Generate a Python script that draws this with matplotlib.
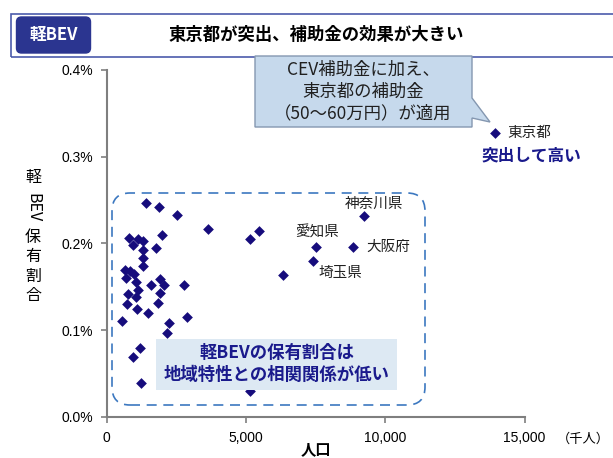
import numpy as np
import matplotlib.pyplot as plt
from matplotlib.patches import FancyBboxPatch, Rectangle, PathPatch
from matplotlib.path import Path
from matplotlib.transforms import IdentityTransform
from matplotlib.ticker import FuncFormatter

# population (thousand people) and kei-BEV share (%) by prefecture
population = [1414, 1881, 2518, 3644, 1978, 802, 1115, 1317, 935, 1317,
              1773, 1317, 1317, 658, 838, 982, 683, 1054, 1593, 1917,
              2061, 2780, 1137, 1917, 777, 1054, 719, 1827, 1079, 1496,
              540, 2252, 2878, 2158, 1198, 935, 1223, 5155, 5478, 5129,
              6341, 7410, 7529, 8823, 9230, 13931]
share = [0.2465, 0.2419, 0.2330, 0.2165, 0.2103, 0.2068, 0.2050, 0.2030, 0.1984, 0.1926,
         0.1946, 0.1830, 0.1742, 0.1690, 0.1678, 0.1649, 0.1600, 0.1554, 0.1522, 0.1586,
         0.1522, 0.1522, 0.1465, 0.1427, 0.1415, 0.1388, 0.1303, 0.1309, 0.1246, 0.1203,
         0.1107, 0.1088, 0.1150, 0.0972, 0.0799, 0.0689, 0.0396, 0.0300, 0.2145, 0.2053,
         0.1634, 0.1799, 0.1957, 0.1964, 0.2322, 0.3279]

# labelled prefectures: name, population, share, text offset (px), alignment
labels = [("神奈川県", 9230, 0.2322, (10, 12), "center"),
          ("愛知県", 7529, 0.1957, (1, 15), "center"),
          ("大阪府", 8823, 0.1964, (14, 0), "left"),
          ("埼玉県", 7410, 0.1799, (5, -12), "left"),
          ("東京都", 13931, 0.3279, (13, 0), "left")]

W, H = 613, 458
JP = ['Noto Sans CJK JP', 'DejaVu Sans']
LAT = ['Liberation Sans', 'DejaVu Sans']
navy = '#160c7c'

fig = plt.figure(figsize=(W / 100, H / 100), dpi=100)
ax = fig.add_axes([106.7 / W, 1 - 417 / H, (524.6 - 106.7) / W, (417 - 70) / H])

def fx(x):
    return x / W

def fy(y):
    return 1 - y / H

ax.scatter(population, share, marker='D', s=30, color=navy, zorder=3, linewidths=0)

ax.set_xlim(0, 15000)
ax.set_ylim(0, 0.4)
ax.set_xticks([0, 5000, 10000, 15000])
ax.set_yticks([0, 0.1, 0.2, 0.3, 0.4])
ax.xaxis.set_major_formatter(FuncFormatter(lambda v, p: f"{int(v):,}"))
ax.yaxis.set_major_formatter(FuncFormatter(lambda v, p: f"{v:.1f}%"))
for s in ['top', 'right']:
    ax.spines[s].set_visible(False)
for s in ['left', 'bottom']:
    ax.spines[s].set_color('#7f7f7f')
    ax.spines[s].set_linewidth(1.5)
ax.tick_params(direction='out', length=4, color='#7f7f7f', width=1.2,
               labelsize=10, labelcolor='#000000', pad=6)
for t in ax.get_xticklabels() + ax.get_yticklabels():
    t.set_family(LAT)

# prefecture labels
for name, xv, yv, off, ha in labels:
    ax.annotate(name, (xv, yv), xytext=off, textcoords='offset pixels',
                ha=ha, va='center', fontsize=10.5, family=JP, color='#202020')

# header
fig.add_artist(Rectangle((fx(11), fy(56.7)), fx(620 - 11), 43 / H, transform=fig.transFigure,
                         facecolor='none', edgecolor='#4b5bab', lw=1.2))
tag = FancyBboxPatch((16.5, H - 53), 74, 36, boxstyle="round,pad=0,rounding_size=5",
                     transform=IdentityTransform(), facecolor='#2b3590', edgecolor='#2b3590')
fig.add_artist(tag)
fig.text(fx(53.5), fy(35), "軽BEV", ha='center', va='center', color='white',
         fontsize=12, fontweight='bold', family=JP)
fig.text(fx(316), fy(35), "東京都が突出、補助金の効果が大きい", ha='center', va='center',
         fontsize=12.5, fontweight='bold', family=JP, color='black')

# callout
x0, x1, y0, y1 = 255, 472, H - 127, H - 56
verts = [(x0, y0), (x0, y1), (x1, y1), (x1, H - 98), (490, H - 122), (x1, H - 118),
         (x1, y0), (x0, y0)]
codes = [Path.MOVETO] + [Path.LINETO] * 6 + [Path.CLOSEPOLY]
fig.add_artist(PathPatch(Path(verts, codes), transform=IdentityTransform(),
                         facecolor='#c6d9ec', edgecolor='#8497b0', lw=1))
fig.text(fx(363), fy(91.5), "CEV補助金に加え、\n東京都の補助金\n（50～60万円）が適用",
         ha='center', va='center', fontsize=12.5, family=JP, color='#202020', linespacing=1.3)
fig.text(fx(482), fy(155), "突出して高い", ha='left', va='center', fontsize=12,
         fontweight='bold', family=JP, color='#1a1a8c')

# dashed rounded box
fig.add_artist(FancyBboxPatch((112, H - 405), 313, 212, boxstyle="round,pad=0,rounding_size=18",
                              transform=IdentityTransform(), facecolor='none',
                              edgecolor='#3c78c0', lw=1.2, linestyle=(0, (6, 4))))
fig.add_artist(Rectangle((fx(156), fy(389.5)), (397 - 156) / W, 51 / H, transform=fig.transFigure,
                         facecolor='#dde9f3', edgecolor='none', zorder=4))
fig.text(fx(276.5), fy(364), "軽BEVの保有割合は\n地域特性との相関関係が低い", ha='center',
         va='center', fontsize=12.5, fontweight='bold', family=JP, color='#1a1a8c',
         linespacing=1.3, zorder=5)

# axis labels
fig.text(fx(316), fy(449), "人口", ha='center', va='center', fontsize=11,
         fontweight='bold', family=JP)
fig.text(fx(557), fy(439), "（千人）", ha='left', va='center', fontsize=9.5, family=JP)
ylab = [("軽", 177.7, 0), ("BEV", 208, -90), ("保", 237.5, 0), ("有", 257, 0),
        ("割", 276.7, 0), ("合", 295.5, 0)]
for ch, yy, rot in ylab:
    fig.text(fx(33), fy(yy), ch, ha='center', va='center', fontsize=11.5, family=JP,
             rotation=rot)

fig.savefig('out.png', dpi=100)
